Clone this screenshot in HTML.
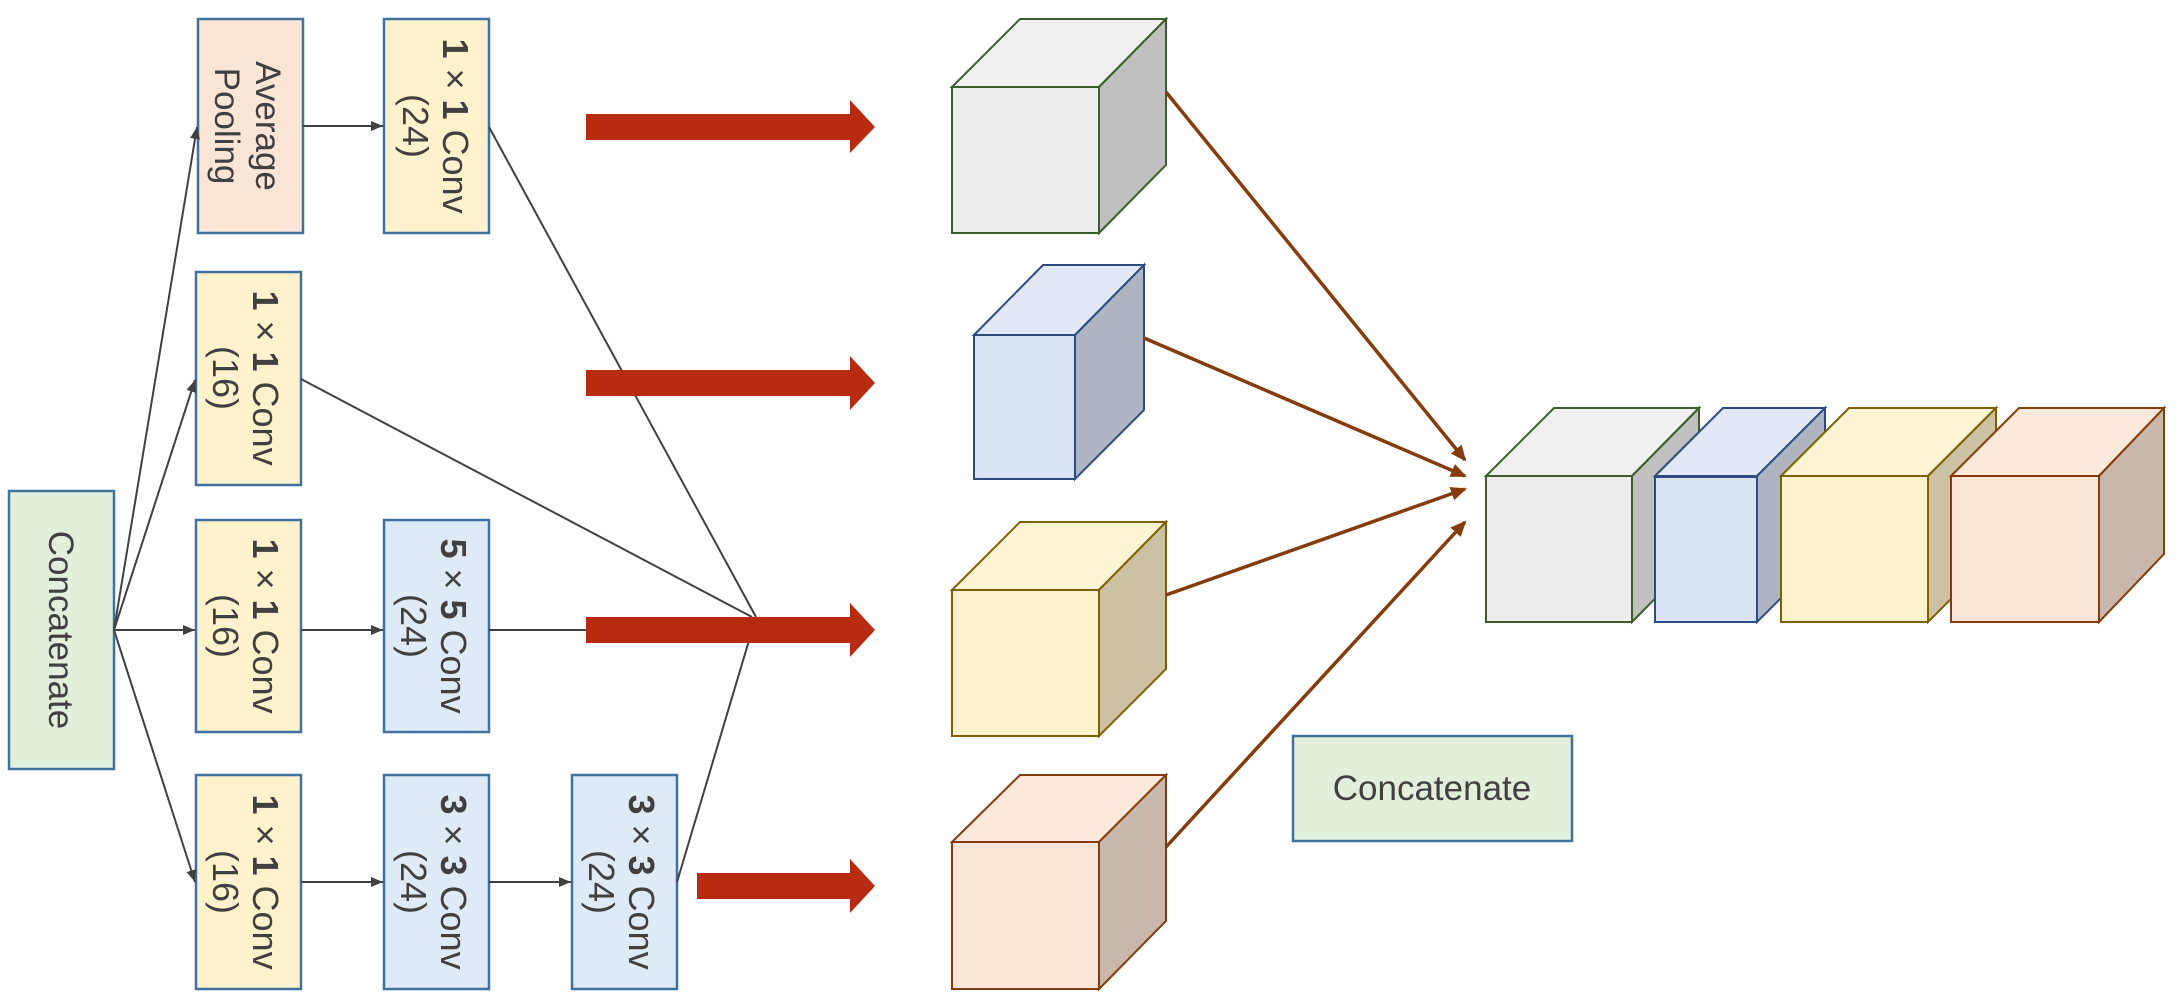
<!DOCTYPE html>
<html><head><meta charset="utf-8"><style>html,body{margin:0;padding:0;background:#fff}svg{display:block}</style></head><body>
<svg width="2181" height="1006" viewBox="0 0 2181 1006" xmlns="http://www.w3.org/2000/svg" font-family="'Liberation Sans', sans-serif">
<defs>
<marker id="ah" markerWidth="14" markerHeight="14" refX="12" refY="5" orient="auto" markerUnits="userSpaceOnUse"><path d="M0,0 L12,5 L0,10 z" fill="#404040"/></marker>
<marker id="bh" markerWidth="16" markerHeight="14" refX="14" refY="7" orient="auto" markerUnits="userSpaceOnUse"><path d="M0,0 L16,7 L0,14 z" fill="#843c0c"/></marker>
</defs>
<g stroke="#41719c" stroke-width="2.5">
<rect x="9" y="491" width="105" height="278" fill="#e2efda"/>
<rect x="198" y="19" width="105" height="214" fill="#fbe5d6"/>
<rect x="196" y="272" width="105" height="213" fill="#fff2cc"/>
<rect x="196" y="520" width="105" height="212" fill="#fff2cc"/>
<rect x="196" y="775" width="105" height="214" fill="#fff2cc"/>
<rect x="384" y="19" width="105" height="214" fill="#fff2cc"/>
<rect x="384" y="520" width="105" height="212" fill="#deeaf6"/>
<rect x="384" y="775" width="105" height="214" fill="#deeaf6"/>
<rect x="572" y="775" width="105" height="214" fill="#deeaf6"/>
<rect x="1293" y="736" width="279" height="105" fill="#e2efda"/>
</g>
<g fill="#404040" font-size="35">
<text transform="translate(49,630) rotate(90)" text-anchor="middle">Concatenate</text>
<text transform="translate(256,126) rotate(90)" text-anchor="middle">Average</text>
<text transform="translate(215,126) rotate(90)" text-anchor="middle">Pooling</text>
<g font-size="36">
<text transform="translate(443,126) rotate(90)" text-anchor="middle"><tspan font-weight="bold">1</tspan> × <tspan font-weight="bold">1</tspan> Conv</text>
<text transform="translate(403,126) rotate(90)" text-anchor="middle">(24)</text>
<text transform="translate(253,378) rotate(90)" text-anchor="middle"><tspan font-weight="bold">1</tspan> × <tspan font-weight="bold">1</tspan> Conv</text>
<text transform="translate(213,378) rotate(90)" text-anchor="middle">(16)</text>
<text transform="translate(253,626) rotate(90)" text-anchor="middle"><tspan font-weight="bold">1</tspan> × <tspan font-weight="bold">1</tspan> Conv</text>
<text transform="translate(213,626) rotate(90)" text-anchor="middle">(16)</text>
<text transform="translate(253,882) rotate(90)" text-anchor="middle"><tspan font-weight="bold">1</tspan> × <tspan font-weight="bold">1</tspan> Conv</text>
<text transform="translate(213,882) rotate(90)" text-anchor="middle">(16)</text>
<text transform="translate(441,626) rotate(90)" text-anchor="middle"><tspan font-weight="bold">5</tspan> × <tspan font-weight="bold">5</tspan> Conv</text>
<text transform="translate(401,626) rotate(90)" text-anchor="middle">(24)</text>
<text transform="translate(441,882) rotate(90)" text-anchor="middle"><tspan font-weight="bold">3</tspan> × <tspan font-weight="bold">3</tspan> Conv</text>
<text transform="translate(401,882) rotate(90)" text-anchor="middle">(24)</text>
<text transform="translate(629,882) rotate(90)" text-anchor="middle"><tspan font-weight="bold">3</tspan> × <tspan font-weight="bold">3</tspan> Conv</text>
<text transform="translate(589,882) rotate(90)" text-anchor="middle">(24)</text>
</g>
<text x="1432" y="800" text-anchor="middle" font-size="35">Concatenate</text>
</g>
<g stroke="#404040" stroke-width="2" fill="none">
<line x1="114" y1="630" x2="197" y2="127" marker-end="url(#ah)"/>
<line x1="114" y1="630" x2="195" y2="380" marker-end="url(#ah)"/>
<line x1="114" y1="630" x2="195" y2="630" marker-end="url(#ah)"/>
<line x1="114" y1="630" x2="195" y2="882" marker-end="url(#ah)"/>
<line x1="303" y1="126" x2="383" y2="126" marker-end="url(#ah)"/>
<line x1="301" y1="630" x2="383" y2="630" marker-end="url(#ah)"/>
<line x1="301" y1="882" x2="383" y2="882" marker-end="url(#ah)"/>
<line x1="489" y1="882" x2="571" y2="882" marker-end="url(#ah)"/>
<line x1="489" y1="127" x2="756" y2="617"/>
<line x1="301" y1="379" x2="752" y2="617"/>
<line x1="489" y1="630" x2="756" y2="630"/>
<line x1="677" y1="882" x2="756" y2="617"/>
</g>
<g fill="#b92b10">
<path d="M586,114 H850 V100 L875,127 L850,153 V140 H586 z"/>
<path d="M586,370 H850 V356 L875,383 L850,410 V396 H586 z"/>
<path d="M586,617 H850 V603 L875,630 L850,657 V643 H586 z"/>
<path d="M697,873 H850 V859 L875,886 L850,913 V899 H697 z"/>
</g>
<g stroke-width="2">
<g stroke="#3b5e2b"><path d="M952,87 L1020,19 L1166,19 L1099,87 z" fill="#f0f0f0"/><path d="M1099,87 L1166,19 L1166,165 L1099,233 z" fill="#c0c0c0"/><rect x="952" y="87" width="147" height="146" fill="#ededed"/></g>
<g stroke="#2f4a80"><path d="M974,335 L1043,265 L1144,265 L1075,335 z" fill="#e2e9f6"/><path d="M1075,335 L1144,265 L1144,410 L1075,479 z" fill="#adb5c3"/><rect x="974" y="335" width="101" height="144" fill="#dae3f3"/></g>
<g stroke="#7f6000"><path d="M952,590 L1020,522 L1166,522 L1099,590 z" fill="#fff4d4"/><path d="M1099,590 L1166,522 L1166,669 L1099,736 z" fill="#ccc2a3"/><rect x="952" y="590" width="147" height="146" fill="#fff2cc"/></g>
<g stroke="#843c0c"><path d="M952,842 L1020,775 L1166,775 L1099,842 z" fill="#fce9dc"/><path d="M1099,842 L1166,775 L1166,921 L1099,989 z" fill="#c9b7ab"/><rect x="952" y="842" width="147" height="147" fill="#fbe5d6"/></g>
<g stroke="#3b5e2b"><path d="M1486,476 L1554,408 L1699,408 L1632,476 z" fill="#f0f0f0"/><path d="M1632,476 L1699,408 L1699,554 L1632,622 z" fill="#c0c0c0"/><rect x="1486" y="476" width="146" height="146" fill="#ededed"/></g>
<g stroke="#2f4a80"><path d="M1655,476 L1723,408 L1825,408 L1757,476 z" fill="#e2e9f6"/><path d="M1757,476 L1825,408 L1825,554 L1757,622 z" fill="#adb5c3"/><rect x="1655" y="477" width="102" height="145" fill="#dae3f3"/></g>
<g stroke="#7f6000"><path d="M1781,476 L1849,408 L1996,408 L1928,476 z" fill="#fff4d4"/><path d="M1928,476 L1996,408 L1996,554 L1928,622 z" fill="#ccc2a3"/><rect x="1781" y="476" width="147" height="146" fill="#fff2cc"/></g>
<g stroke="#843c0c"><path d="M1951,476 L2019,408 L2164,408 L2099,476 z" fill="#fce9dc"/><path d="M2099,476 L2164,408 L2164,554 L2099,622 z" fill="#c9b7ab"/><rect x="1951" y="476" width="148" height="146" fill="#fbe5d6"/></g>
</g>
<g stroke="#843c0c" stroke-width="3.5" fill="none">
<line x1="1166" y1="92" x2="1465" y2="460" marker-end="url(#bh)"/>
<line x1="1144" y1="338" x2="1465" y2="476" marker-end="url(#bh)"/>
<line x1="1166" y1="595" x2="1465" y2="489" marker-end="url(#bh)"/>
<line x1="1166" y1="847" x2="1465" y2="522" marker-end="url(#bh)"/>
</g>
</svg>
</body></html>
